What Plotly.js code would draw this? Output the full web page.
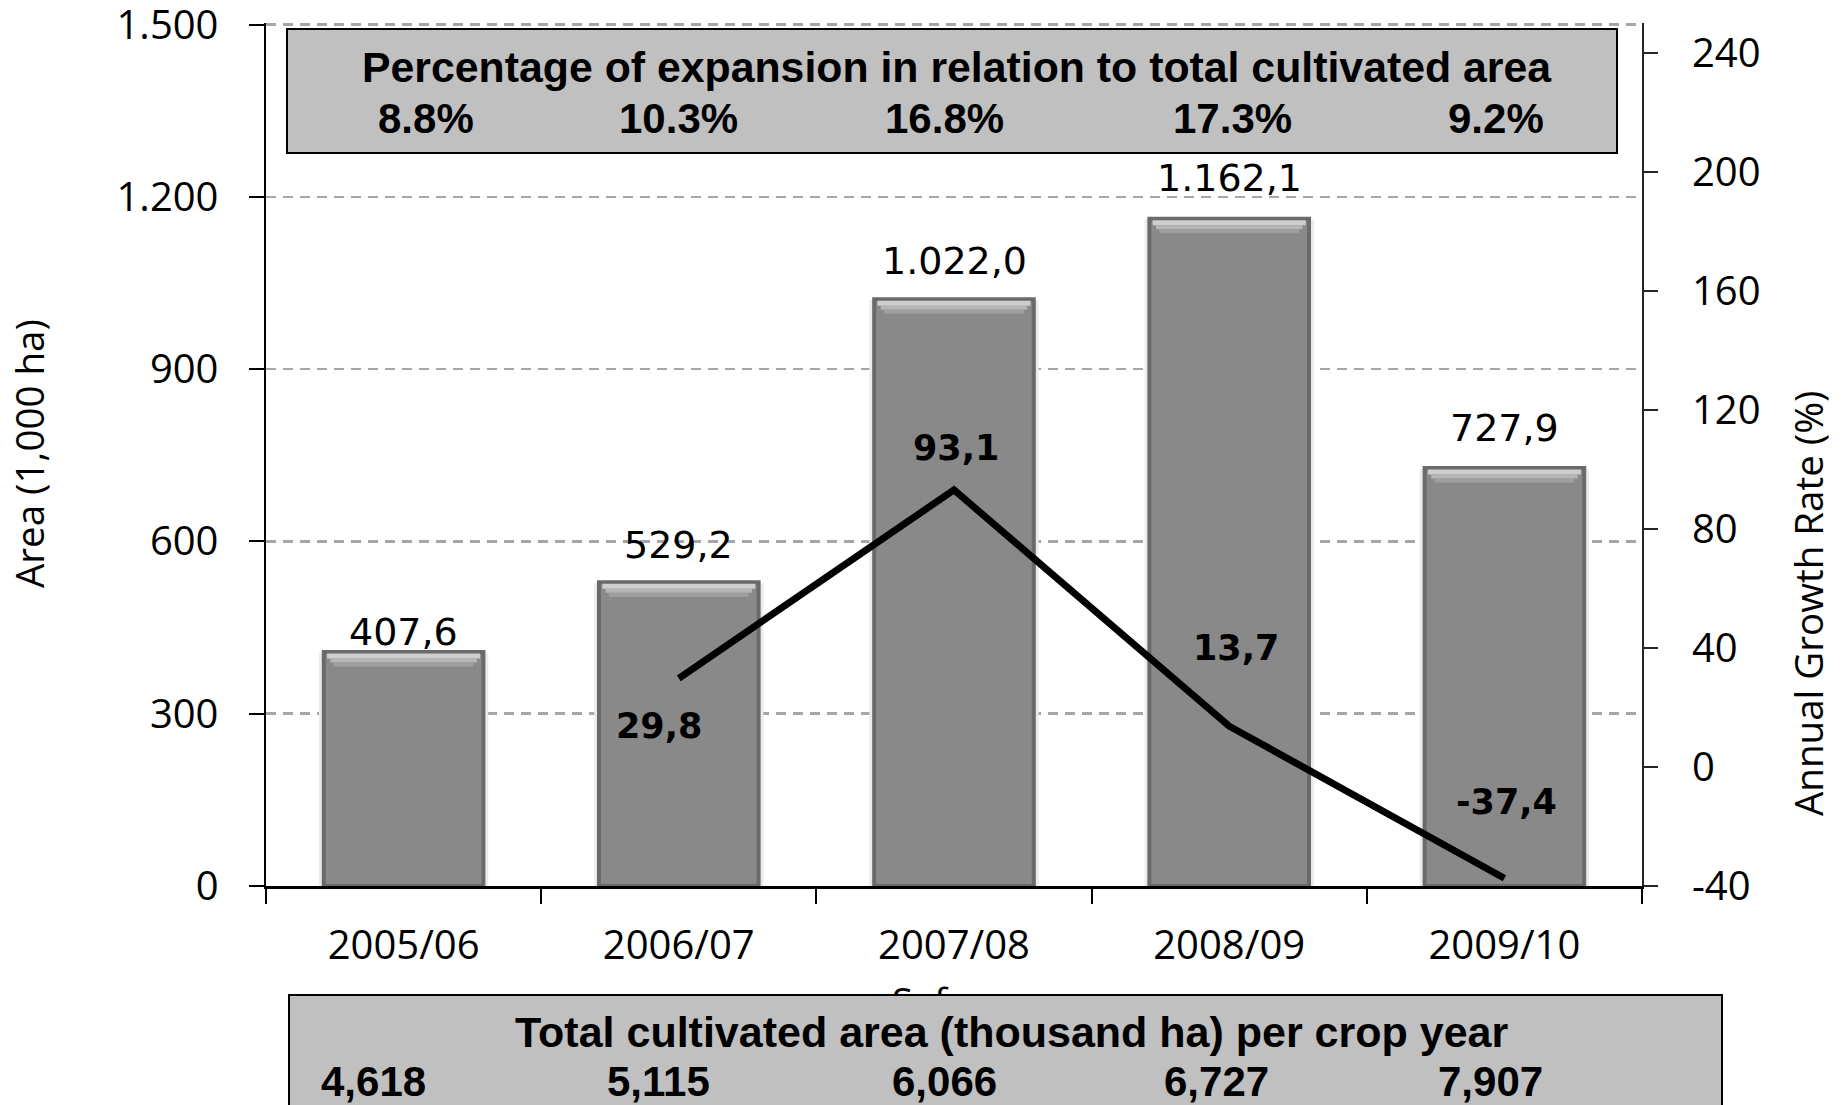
<!DOCTYPE html>
<html><head><meta charset="utf-8">
<script src="https://cdn.plot.ly/plotly-3.0.1.min.js"></script>
<style>html,body{margin:0;padding:0;background:#fff;} #chart{width:1843px;height:1105px;}</style>
</head><body><div id="chart"></div>
<script>
// ---------------- data ----------------
const cropYears = ['2005/06', '2006/07', '2007/08', '2008/09', '2009/10'];
const expandedArea = [407.6, 529.2, 1022.0, 1162.1, 727.9];          // 1,000 ha
const growthYears = ['2006/07', '2007/08', '2008/09', '2009/10'];
const growthRate = [29.8, 93.1, 13.7, -37.4];                          // %
const expansionShare = [8.8, 10.3, 16.8, 17.3, 9.2];                   // % of total cultivated area
const totalCultivated = [4618, 5115, 6066, 6727, 7907];                // thousand ha
const leftTicks = [0, 300, 600, 900, 1200, 1500];
const rightTicks = [-40, 0, 40, 80, 120, 160, 200, 240];
const topBoxTitle = 'Percentage of expansion in relation to total cultivated area';
const bottomBoxTitle = 'Total cultivated area (thousand ha) per crop year';
const leftTitle = 'Area (1,000 ha)';
const rightTitle = 'Annual Growth Rate (%)';
const xTitle = 'Safra';

// ---------------- style / geometry ----------------
const W = 1843, H = 1105;
const L = 266, R = 1642, T = 23, B = 886;
const Y_MAX = 1503;
const UNIT_PER_PX = Y_MAX / (B - T);
const px = v => (v - L) / (R - L);
const py = v => (B - v) / (B - T);
const REG = 'Open Sans, sans-serif';
const VER = 'DejaVu Sans, sans-serif';
const BOX = 'Liberation Sans, Arial, sans-serif';
const barLabelShift = [20, 37, 38, 41, 40];
const lineLabelShift = [[-20, -48], [2, 42], [7, 78], [2, 76]];
const shareLabelXShift = [22, 0, -10, 3, -8];
const totalLabelXShift = [-30, -20, -10, -13, -14];
// top bevel bands of the bars: offset from top (px), height (px), colour, width
const bevelBands = [
  {off: 1.5, h: 5, color: '#cecece', w: 0.556},
  {off: 6.5, h: 4, color: '#b6b6b6', w: 0.532},
  {off: 10.5, h: 4, color: '#9f9f9f', w: 0.508}
];

function fmtBR(v) {
  const s = v.toFixed(1).split('.');
  const int = s[0].replace(/\B(?=(\d{3})+(?!\d))/g, '.');
  return int + ',' + s[1];
}
function fmtEN(v) { return String(v).replace(/\B(?=(\d{3})+(?!\d))/g, ','); }

const traces = [
  { // soft shadow halo
    type: 'bar', x: cropYears, y: expandedArea.map(v => v + 2 * UNIT_PER_PX), base: expandedArea.map(() => -3 * UNIT_PER_PX),
    width: 0.615, marker: {color: '#ebebeb', line: {width: 0}}, hoverinfo: 'skip', showlegend: false
  },
  {
    type: 'bar', x: cropYears, y: expandedArea, width: 0.58,
    marker: {color: '#898989', line: {color: '#6a6a6a', width: 4}},
    hoverinfo: 'x+y', showlegend: false
  }
];
bevelBands.forEach(b => traces.push({
  type: 'bar', x: cropYears, y: expandedArea.map(() => b.h * UNIT_PER_PX),
  base: expandedArea.map(v => v - (b.off + b.h) * UNIT_PER_PX), width: b.w,
  marker: {color: b.color, line: {width: 0}}, hoverinfo: 'skip', showlegend: false
}));
traces.push({
  type: 'scatter', mode: 'lines', x: growthYears, y: growthRate, yaxis: 'y2',
  line: {color: '#000000', width: 7}, showlegend: false
});

const ann = [];
const A = o => Object.assign({showarrow: false, xanchor: 'center', yanchor: 'middle'}, o);
// axis titles
ann.push(A({xref: 'paper', yref: 'paper', x: px(29), y: py(454), text: leftTitle, textangle: -90,
  font: {family: REG, size: 38.5, color: '#000'}}));
ann.push(A({xref: 'paper', yref: 'paper', x: px(1808), y: py(604), text: rightTitle, textangle: -90,
  font: {family: REG, size: 38.5, color: '#000'}}));
ann.push(A({xref: 'paper', yref: 'paper', x: px(937), y: py(973), yanchor: 'top', text: xTitle,
  font: {family: REG, size: 38, color: '#000'}}));
// top box
ann.push(A({xref: 'paper', yref: 'paper', x: px(952), y: py(91),
  text: ' ', width: 1328, height: 122, borderpad: 0,
  bgcolor: '#c0c0c0', bordercolor: '#000000', borderwidth: 2}));
ann.push(A({xref: 'paper', yref: 'paper', x: px(957), y: py(67), text: topBoxTitle,
  font: {family: BOX, size: 42.8, weight: 'bold', color: '#000'}}));
expansionShare.forEach((v, i) => ann.push(A({
  xref: 'x', yref: 'paper', x: cropYears[i], xshift: shareLabelXShift[i], y: py(119), text: v.toFixed(1) + '%',
  font: {family: BOX, size: 42, weight: 'bold', color: '#000'}})));
// bottom box
ann.push(A({xref: 'paper', yref: 'paper', x: px(1006), y: py(1052),
  text: ' ', width: 1431, height: 113, borderpad: 0,
  bgcolor: '#c0c0c0', bordercolor: '#000000', borderwidth: 2}));
ann.push(A({xref: 'paper', yref: 'paper', x: px(1011), y: py(1032), text: bottomBoxTitle,
  font: {family: BOX, size: 43, weight: 'bold', color: '#000'}}));
totalCultivated.forEach((v, i) => ann.push(A({
  xref: 'x', yref: 'paper', x: cropYears[i], xshift: totalLabelXShift[i], y: py(1081), text: fmtEN(v),
  font: {family: BOX, size: 42, weight: 'bold', color: '#000'}})));
// bar value labels
expandedArea.forEach((v, i) => ann.push(A({
  xref: 'x', yref: 'y', x: cropYears[i], y: v, yshift: barLabelShift[i],
  text: fmtBR(v), font: {family: VER, size: 38, color: '#000'}})));
// line value labels
growthRate.forEach((v, i) => ann.push(A({
  xref: 'x', yref: 'y2', x: growthYears[i], y: v,
  xshift: lineLabelShift[i][0], yshift: lineLabelShift[i][1],
  text: fmtBR(v), font: {family: VER, size: 35, weight: 'bold', color: '#000'}})));

const layout = {
  width: W, height: H,
  margin: {l: L, r: W - R, t: T, b: H - B, autoexpand: false},
  paper_bgcolor: '#ffffff', plot_bgcolor: '#ffffff',
  separators: ',.',
  barmode: 'overlay',
  showlegend: false,
  xaxis: {
    type: 'category', categoryorder: 'array', categoryarray: cropYears,
    showline: true, linecolor: '#000000', linewidth: 2.5,
    ticks: 'outside', tickson: 'boundaries', ticklen: 15, tickwidth: 2, tickcolor: '#000',
    tickfont: {family: REG, size: 40, color: '#000'}, ticklabelstandoff: 22,
    showgrid: false, zeroline: false, fixedrange: true
  },
  yaxis: {
    range: [0, Y_MAX], tickvals: leftTicks, tickformat: ',',
    showline: true, linecolor: '#000000', linewidth: 2.5,
    ticks: 'outside', ticklen: 15, tickwidth: 2, tickcolor: '#000',
    tickfont: {family: REG, size: 40, color: '#000'}, ticklabelstandoff: 22,
    ticklabeloverflow: 'allow',
    showgrid: true, gridcolor: '#a6a6a6', gridwidth: 2.5, griddash: '10px,7px',
    zeroline: false, fixedrange: true
  },
  yaxis2: {
    overlaying: 'y', side: 'right', range: [-40, 250],
    tickvals: rightTicks, ticktext: rightTicks.map(String),
    showline: true, linecolor: '#262626', linewidth: 2,
    ticks: 'outside', ticklen: 14, tickwidth: 2, tickcolor: '#262626',
    tickfont: {family: REG, size: 40, color: '#000'}, ticklabelstandoff: 26,
    ticklabeloverflow: 'allow',
    showgrid: false, zeroline: false, fixedrange: true
  },
  annotations: ann
};

Plotly.newPlot('chart', traces, layout, {staticPlot: true, displayModeBar: false});
</script>
</body></html>
